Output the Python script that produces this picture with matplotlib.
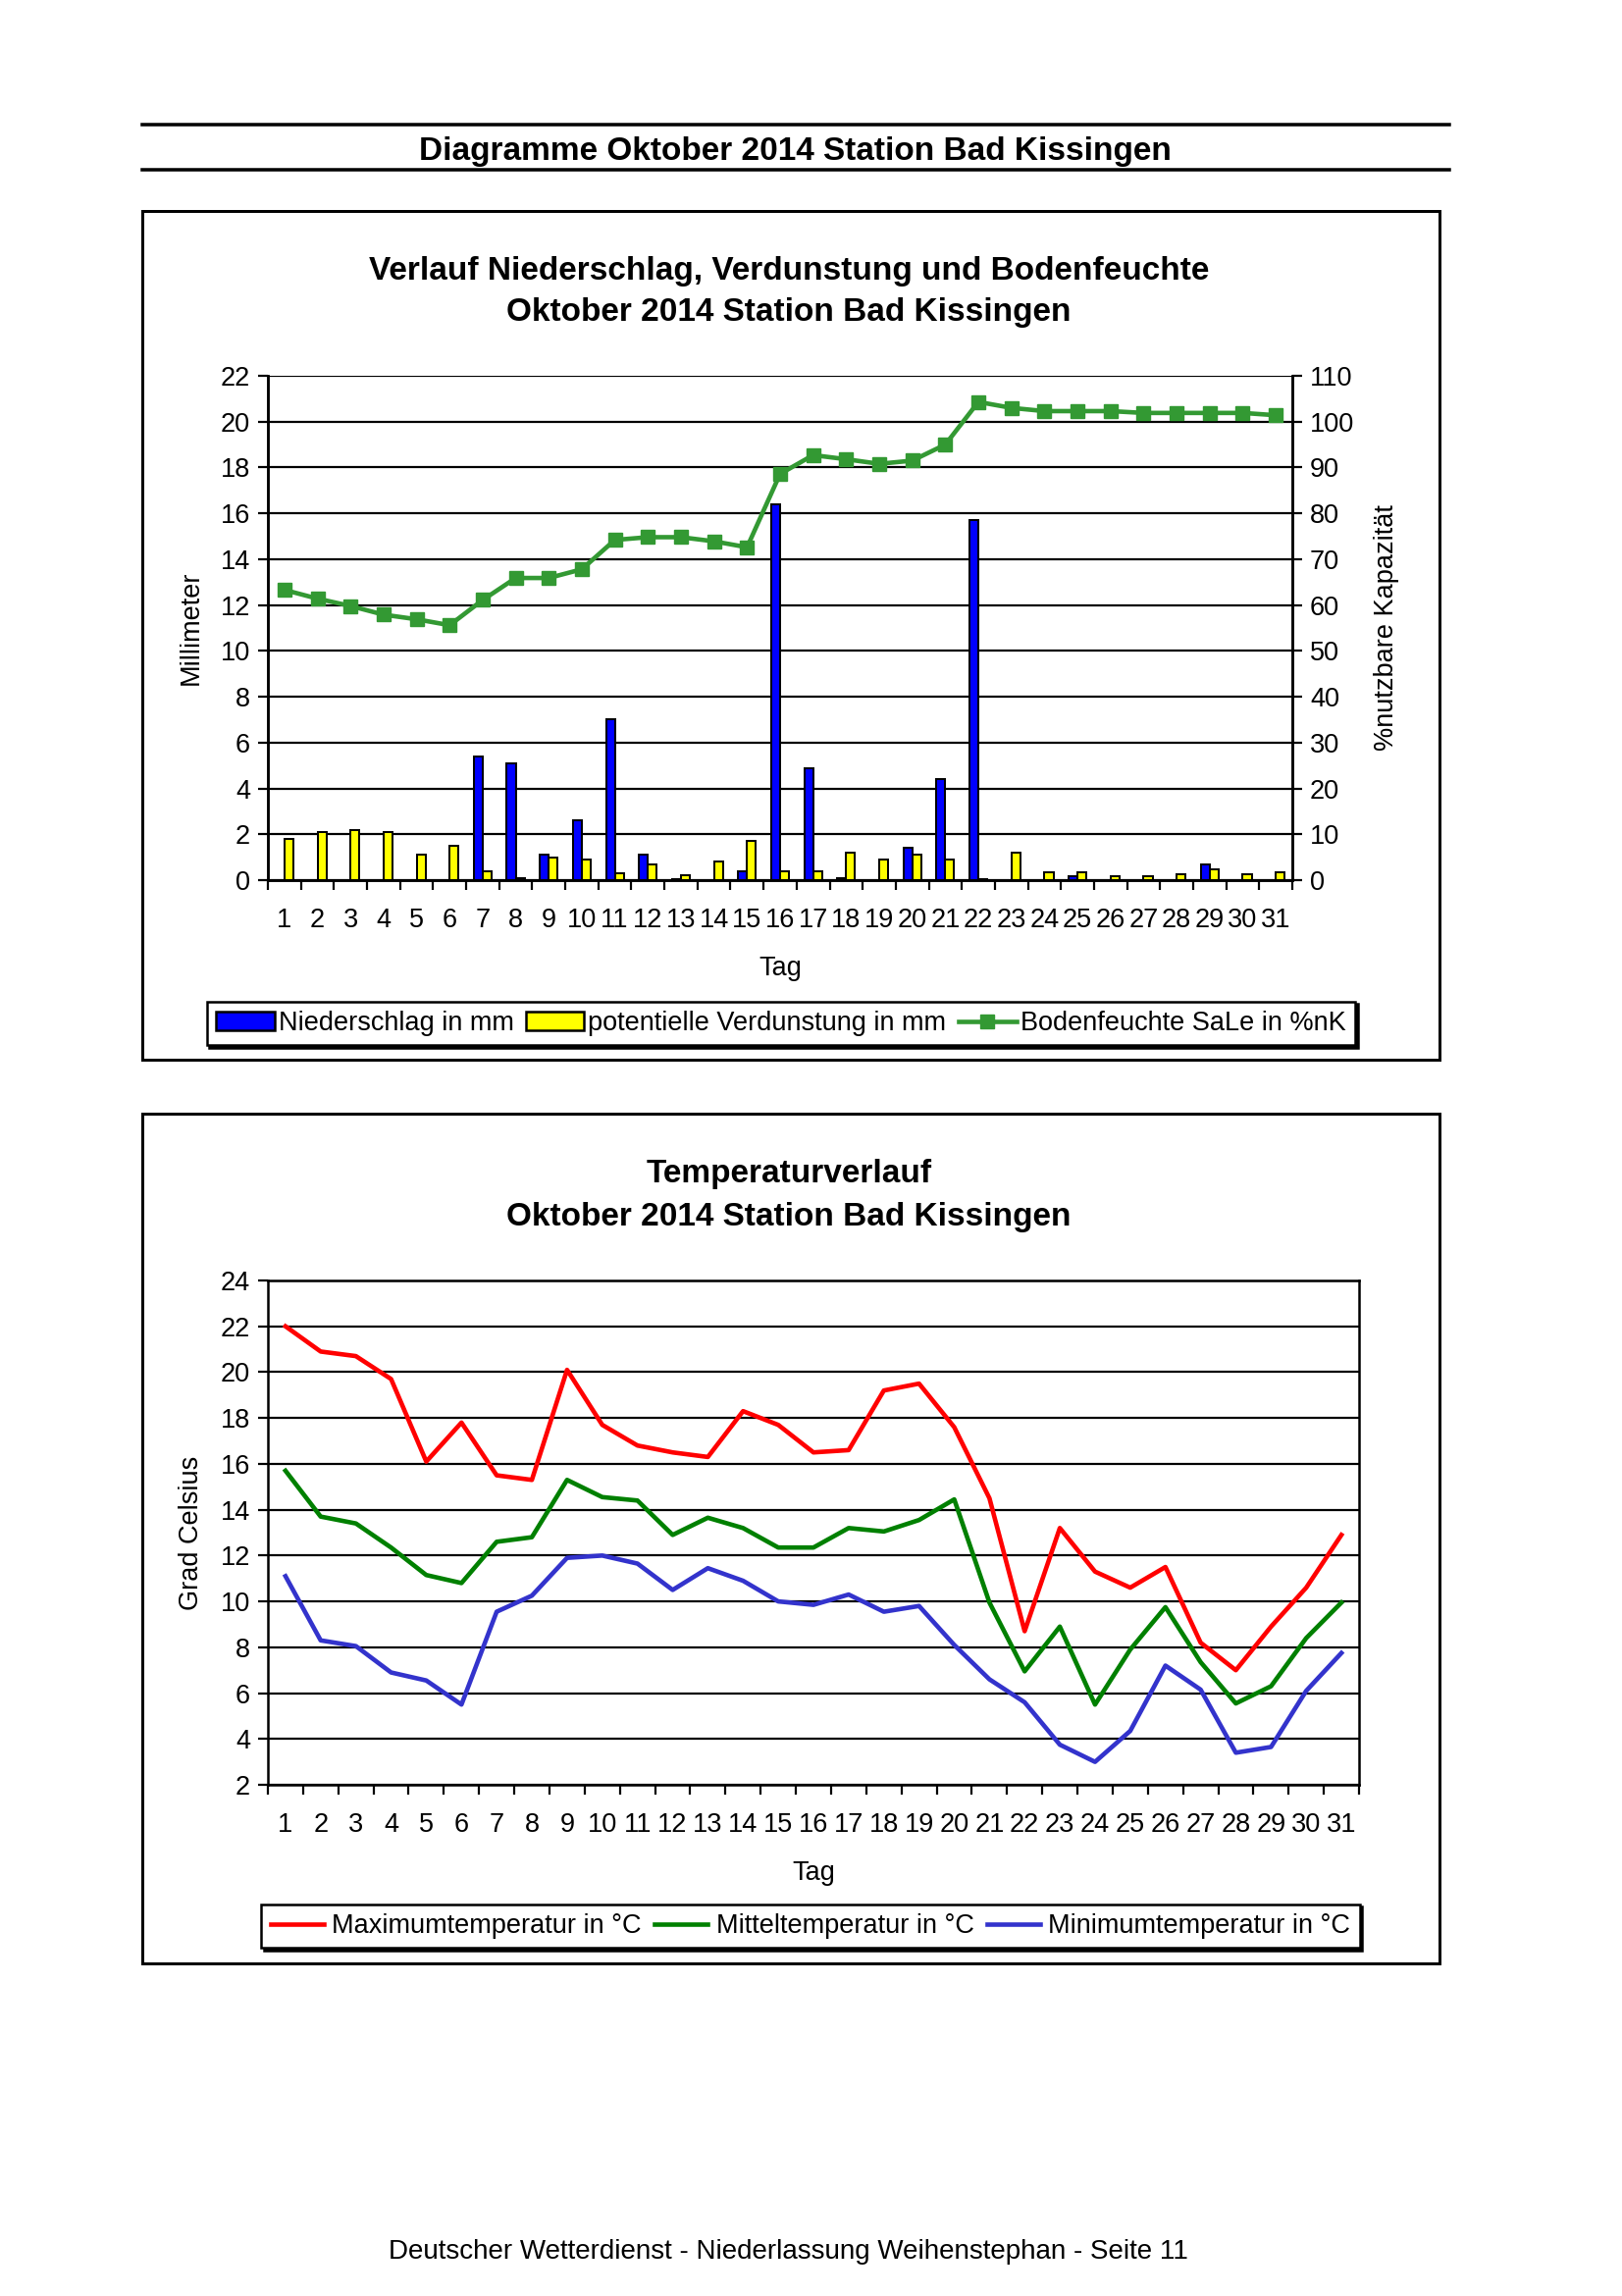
import matplotlib
matplotlib.use("Agg")
import matplotlib.pyplot as plt
from matplotlib.patches import Rectangle, Patch
from matplotlib.lines import Line2D
import numpy as np

plt.rcParams['font.family'] = ['Liberation Sans', 'DejaVu Sans']

days = list(range(1, 32))
day_labels = [str(d) for d in days]

niederschlag = [0, 0, 0, 0, 0, 0, 5.4, 5.1, 1.1, 2.6, 7.0, 1.1, 0.05, 0, 0.4, 16.4,
                4.9, 0.1, 0, 1.4, 4.4, 15.7, 0, 0, 0.15, 0, 0, 0, 0.7, 0, 0]
verdunstung = [1.8, 2.1, 2.2, 2.1, 1.1, 1.5, 0.4, 0.1, 1.0, 0.9, 0.3, 0.7, 0.2, 0.8, 1.7, 0.4,
               0.4, 1.2, 0.9, 1.1, 0.9, 0.05, 1.2, 0.35, 0.35, 0.15, 0.15, 0.25, 0.45, 0.25, 0.35]
bodenfeuchte = [63.3, 61.4, 59.8, 57.9, 56.9, 55.6, 61.1, 65.9, 65.9, 67.8, 74.2, 74.8, 74.8,
                73.9, 72.6, 88.6, 92.7, 91.8, 90.8, 91.5, 95.0, 104.3, 103.0, 102.3, 102.3,
                102.3, 101.9, 101.9, 101.9, 101.9, 101.4]

t_max = [22.0, 20.9, 20.7, 19.7, 16.1, 17.8, 15.5, 15.3, 20.1, 17.7, 16.8, 16.5, 16.3, 18.3,
         17.7, 16.5, 16.6, 19.2, 19.5, 17.6, 14.5, 8.7, 13.2, 11.3, 10.6, 11.5, 8.2, 7.0,
         8.9, 10.6, 12.9]
t_mit = [15.7, 13.7, 13.4, 12.35, 11.15, 10.8, 12.6, 12.8, 15.3, 14.55, 14.4, 12.9, 13.65,
         13.2, 12.35, 12.35, 13.2, 13.05, 13.55, 14.45, 9.95, 6.95, 8.9, 5.5, 7.9, 9.75,
         7.35, 5.55, 6.3, 8.4, 9.95]
t_min = [11.1, 8.3, 8.05, 6.9, 6.55, 5.5, 9.55, 10.25, 11.9, 12.0, 11.65, 10.5, 11.45, 10.9,
         10.0, 9.85, 10.3, 9.55, 9.8, 8.1, 6.6, 5.6, 3.75, 3.0, 4.35, 7.2, 6.15, 3.4, 3.65,
         6.1, 7.75]

W, H = 1653, 2340
fig = plt.figure(figsize=(W / 100, H / 100), dpi=100)

def fx(x):
    return x / W

def fy(y):
    return 1 - y / H

def px2pt(p):
    return p * 72 / 100

# header lines and text
for y in (127, 173):
    fig.add_artist(Line2D([fx(145), fx(1477)], [fy(y), fy(y)], color='black', lw=px2pt(3.5)))
fig.text(fx(810), fy(154), 'Diagramme Oktober 2014 Station Bad Kissingen', ha='center', va='center',
         fontsize=24, fontweight='bold')

# frames
for (x0, y0, x1, y1) in [(145, 215, 1467, 1080), (145, 1135, 1467, 2001)]:
    fig.add_artist(Rectangle((fx(x0), fy(y1)), fx(x1) - fx(x0), fy(y0) - fy(y1),
                             fill=False, ec='black', lw=px2pt(3)))

fs = 19.5
tfs = 24
lw_grid = px2pt(2.2)
lw_line = px2pt(4.6)

# ---------- top chart ----------
ax1 = fig.add_axes([fx(273), fy(897), fx(1317) - fx(273), fy(383) - fy(897)])
x = np.array(days)
bw = 0.27
ax1.bar(x - bw / 2, niederschlag, width=bw, color='#0000FF', edgecolor='black', linewidth=px2pt(2), zorder=3)
ax1.bar(x + bw / 2, verdunstung, width=bw, color='#FFFF00', edgecolor='black', linewidth=px2pt(2), zorder=3)
ax1.set_xlim(0.5, 31.5)
ax1.set_ylim(0, 22)
ax1.set_yticks(range(0, 23, 2))
ax1.set_xticks(np.arange(0.5, 32, 1))
ax1.set_xticklabels([])
ax1.set_xticks(days, minor=True)
ax1.set_xticklabels(day_labels, minor=True)
ax1.tick_params(axis='x', which='major', direction='out', length=7, width=px2pt(2.2))
ax1.tick_params(axis='x', which='minor', length=0, pad=20, labelsize=fs)
ax1.tick_params(axis='y', direction='out', length=7, width=px2pt(2.2), labelsize=fs, pad=6)
ax1.yaxis.grid(True, color='black', lw=lw_grid, zorder=1)
ax1.set_axisbelow(True)
for s in ax1.spines.values():
    s.set_linewidth(px2pt(2.5))
ax1.spines['top'].set_visible(False)
ax1.set_xlabel('Tag', fontsize=fs, labelpad=17)
ax1.set_ylabel('Millimeter', fontsize=fs, labelpad=12)

ax1b = ax1.twinx()
ax1b.plot(days, bodenfeuchte, color='#339933', lw=lw_line, marker='s', ms=9.5, zorder=5)
ax1b.set_ylim(0, 110)
ax1b.set_yticks(range(0, 111, 10))
ax1b.tick_params(axis='y', direction='out', length=7, width=px2pt(2.2), labelsize=fs, pad=6)
for s in ax1b.spines.values():
    s.set_linewidth(px2pt(2.5))
ax1b.spines['top'].set_visible(False)
ax1b.set_ylabel('%nutzbare Kapazität', fontsize=fs, labelpad=14)

fig.text(fx(804), fy(276), 'Verlauf Niederschlag, Verdunstung und Bodenfeuchte', ha='center', va='center',
         fontsize=tfs, fontweight='bold')
fig.text(fx(804), fy(319), 'Oktober 2014 Station Bad Kissingen', ha='center', va='center',
         fontsize=tfs, fontweight='bold')

h1 = [Patch(facecolor='#0000FF', edgecolor='black', lw=px2pt(2.5)),
      Patch(facecolor='#FFFF00', edgecolor='black', lw=px2pt(2.5)),
      Line2D([], [], color='#339933', lw=lw_line, marker='s', ms=9.5)]
l1 = ['Niederschlag in mm', 'potentielle Verdunstung in mm', 'Bodenfeuchte SaLe in %nK']
leg1 = fig.legend(h1, l1, loc='center', bbox_to_anchor=(fx(796), fy(1043)), ncol=3, fontsize=fs,
                  frameon=True, fancybox=False, edgecolor='black', handlelength=2.2, handletextpad=0.15,
                  columnspacing=0.45, borderpad=0.35, shadow={'color': 'black', 'alpha': 1, 'ox': 2, 'oy': -2})
leg1.get_frame().set_linewidth(px2pt(2.5))

# ---------- bottom chart ----------
ax2 = fig.add_axes([fx(273), fy(1819), fx(1385) - fx(273), fy(1305) - fy(1819)])
ax2.plot(days, t_max, color='#FF0000', lw=lw_line, zorder=4)
ax2.plot(days, t_mit, color='#008000', lw=lw_line, zorder=4)
ax2.plot(days, t_min, color='#3333CC', lw=lw_line, zorder=4)
ax2.set_xlim(0.5, 31.5)
ax2.set_ylim(2, 24)
ax2.set_yticks(range(2, 25, 2))
ax2.set_xticks(np.arange(0.5, 32, 1))
ax2.set_xticklabels([])
ax2.set_xticks(days, minor=True)
ax2.set_xticklabels(day_labels, minor=True)
ax2.tick_params(axis='x', which='major', direction='out', length=7, width=px2pt(2.2))
ax2.tick_params(axis='x', which='minor', length=0, pad=20, labelsize=fs)
ax2.tick_params(axis='y', direction='out', length=7, width=px2pt(2.2), labelsize=fs, pad=6)
ax2.yaxis.grid(True, color='black', lw=lw_grid, zorder=1)
ax2.set_axisbelow(True)
for s in ax2.spines.values():
    s.set_linewidth(px2pt(2.5))
ax2.set_xlabel('Tag', fontsize=fs, labelpad=17)
ax2.set_ylabel('Grad Celsius', fontsize=fs, labelpad=12)
fig.text(fx(804), fy(1197), 'Temperaturverlauf', ha='center', va='center',
         fontsize=tfs, fontweight='bold')
fig.text(fx(804), fy(1241), 'Oktober 2014 Station Bad Kissingen', ha='center', va='center',
         fontsize=tfs, fontweight='bold')

h2 = [Line2D([], [], color='#FF0000', lw=lw_line),
      Line2D([], [], color='#008000', lw=lw_line),
      Line2D([], [], color='#3333CC', lw=lw_line)]
l2 = ['Maximumtemperatur in °C', 'Mitteltemperatur in °C', 'Minimumtemperatur in °C']
leg2 = fig.legend(h2, l2, loc='center', bbox_to_anchor=(fx(826), fy(1963)), ncol=3, fontsize=fs,
                  frameon=True, fancybox=False, edgecolor='black', handlelength=2.0, handletextpad=0.3,
                  columnspacing=0.5, borderpad=0.35, shadow={'color': 'black', 'alpha': 1, 'ox': 2, 'oy': -2})
leg2.get_frame().set_linewidth(px2pt(2.5))

fig.text(fx(803), fy(2295), 'Deutscher Wetterdienst - Niederlassung Weihenstephan - Seite 11',
         ha='center', va='center', fontsize=20)

fig.savefig('out.png', dpi=100, facecolor='white')
